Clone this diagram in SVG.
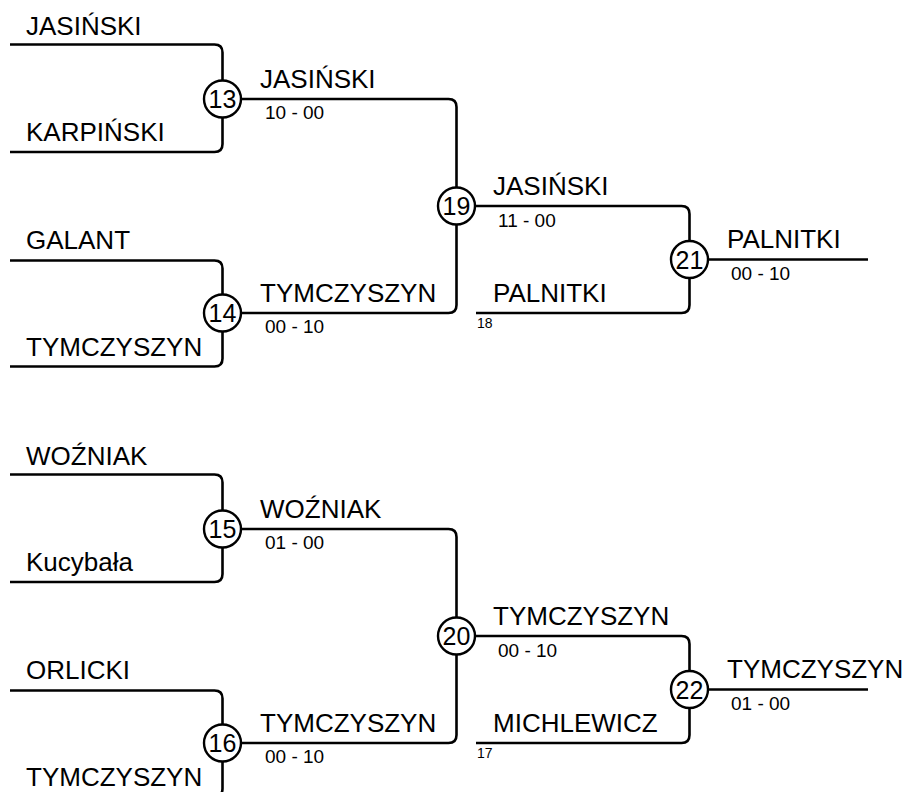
<svg xmlns="http://www.w3.org/2000/svg" width="906" height="792" viewBox="0 0 906 792">
<style>
.ln{fill:none;stroke:#000;stroke-width:2.6;stroke-linejoin:round}
.c{fill:#fff;stroke:#000;stroke-width:2.4}
.n{font-family:"Liberation Sans",Arial,sans-serif;font-size:26px;fill:#000}
.s{font-family:"Liberation Sans",Arial,sans-serif;font-size:19px;fill:#000}
.k{font-family:"Liberation Sans",Arial,sans-serif;font-size:14px;fill:#000}
.m{font-family:"Liberation Sans",Arial,sans-serif;font-size:25px;fill:#000;text-anchor:middle}
</style>
<rect width="906" height="792" fill="#fff"/>
<g id="connectors">
<path class="ln" d="M10,44.5 H214.5 Q222.5,44.5 222.5,52.5 V144 Q222.5,152 214.5,152 H10"/>
<path class="ln" d="M222.5,99 H448.5 Q456.5,99 456.5,107 V305 Q456.5,313 448.5,313 H222.5"/>
<path class="ln" d="M10,260.5 H214.5 Q222.5,260.5 222.5,268.5 V358.5 Q222.5,366.5 214.5,366.5 H10"/>
<path class="ln" d="M456.5,206 H681.5 Q689.5,206 689.5,214 V305 Q689.5,313 681.5,313 H476"/>
<path class="ln" d="M689.5,259.5 H868"/>
<g transform="translate(0,430)">
<path class="ln" d="M10,44.5 H214.5 Q222.5,44.5 222.5,52.5 V144 Q222.5,152 214.5,152 H10"/>
<path class="ln" d="M222.5,99 H448.5 Q456.5,99 456.5,107 V305 Q456.5,313 448.5,313 H222.5"/>
<path class="ln" d="M10,260.5 H214.5 Q222.5,260.5 222.5,268.5 V358.5 Q222.5,366.5 214.5,366.5 H10"/>
<path class="ln" d="M456.5,206 H681.5 Q689.5,206 689.5,214 V305 Q689.5,313 681.5,313 H476"/>
<path class="ln" d="M689.5,259.5 H868"/>
</g>
</g>
<g id="labels">
<text class="n" x="26" y="35">JASIŃSKI</text>
<text class="n" x="26" y="141">KARPIŃSKI</text>
<text class="n" x="26" y="249">GALANT</text>
<text class="n" x="26" y="356">TYMCZYSZYN</text>
<text class="n" x="260" y="88">JASIŃSKI</text>
<text class="s" x="265" y="119">10 - 00</text>
<text class="n" x="260" y="302">TYMCZYSZYN</text>
<text class="s" x="265" y="333">00 - 10</text>
<text class="n" x="493" y="195">JASIŃSKI</text>
<text class="s" x="498" y="227">11 - 00</text>
<text class="n" x="493" y="302">PALNITKI</text>
<text class="k" x="477" y="328">18</text>
<text class="n" x="727" y="248">PALNITKI</text>
<text class="s" x="731" y="280">00 - 10</text>
<text class="n" x="26" y="465">WOŹNIAK</text>
<text class="n" x="26" y="571">Kucybała</text>
<text class="n" x="26" y="679">ORLICKI</text>
<text class="n" x="26" y="786">TYMCZYSZYN</text>
<text class="n" x="260" y="518">WOŹNIAK</text>
<text class="s" x="265" y="549">01 - 00</text>
<text class="n" x="260" y="732">TYMCZYSZYN</text>
<text class="s" x="265" y="763">00 - 10</text>
<text class="n" x="493" y="625">TYMCZYSZYN</text>
<text class="s" x="498" y="657">00 - 10</text>
<text class="n" x="493" y="732">MICHLEWICZ</text>
<text class="k" x="477" y="758">17</text>
<text class="n" x="727" y="678">TYMCZYSZYN</text>
<text class="s" x="731" y="710">01 - 00</text>
</g>
<g id="m13"><circle class="c" cx="222.5" cy="99" r="18.5"/><text class="m" x="222.5" y="108">13</text></g>
<g id="m14"><circle class="c" cx="222.5" cy="313" r="18.5"/><text class="m" x="222.5" y="322">14</text></g>
<g id="m19"><circle class="c" cx="456.5" cy="206" r="18.5"/><text class="m" x="456.5" y="215">19</text></g>
<g id="m21"><circle class="c" cx="689.5" cy="259.5" r="18.5"/><text class="m" x="689.5" y="268.5">21</text></g>
<g id="m15"><circle class="c" cx="222.5" cy="529" r="18.5"/><text class="m" x="222.5" y="538">15</text></g>
<g id="m16"><circle class="c" cx="222.5" cy="743" r="18.5"/><text class="m" x="222.5" y="752">16</text></g>
<g id="m20"><circle class="c" cx="456.5" cy="636" r="18.5"/><text class="m" x="456.5" y="645">20</text></g>
<g id="m22"><circle class="c" cx="689.5" cy="689.5" r="18.5"/><text class="m" x="689.5" y="698.5">22</text></g>
</svg>
